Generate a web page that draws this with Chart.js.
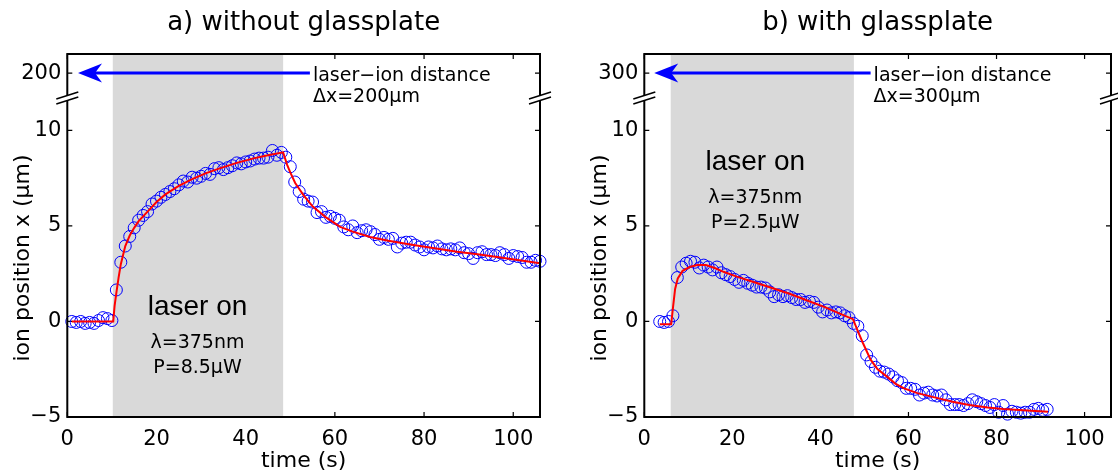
<!DOCTYPE html>
<html>
<head>
<meta charset="utf-8">
<script src="https://cdn.jsdelivr.net/npm/chart.js@4.4.1/dist/chart.umd.min.js"></script>
<style>
  html, body { margin: 0; padding: 0; background: #fff; }
  #wrap { position: relative; width: 1118px; height: 474px; }
  canvas { position: absolute; top: 0; }
</style>
</head>
<body>
<div id="wrap">
  <canvas id="chartA" width="559" height="474" style="left:0px"></canvas>
  <canvas id="chartB" width="559" height="474" style="left:559px"></canvas>
</div>
<script>
// ---- data ----
const xTickVals = [0, 20, 40, 60, 80, 100];
const yTickVals = [-5, 0, 5, 10];
const xRange = [0, 106];
const yRange = [-5, 14];
const breakTick = 13;     // value where the "200"/"300" label sits
const breakMark = 11.7;   // axis break

// a) without glassplate
const timeA = [
  1, 2, 3, 4, 5, 6, 7, 8, 9, 10,
  11, 12, 13, 14, 15, 16, 17, 18, 19, 20,
  21, 22, 23, 24, 25, 26, 27, 28, 29, 30,
  31, 32, 33, 34, 35, 36, 37, 38, 39, 40,
  41, 42, 43, 44, 45, 46, 47, 48, 49, 50,
  51, 52, 53, 54, 55, 56, 57, 58, 59, 60,
  61, 62, 63, 64, 65, 66, 67, 68, 69, 70,
  71, 72, 73, 74, 75, 76, 77, 78, 79, 80,
  81, 82, 83, 84, 85, 86, 87, 88, 89, 90,
  91, 92, 93, 94, 95, 96, 97, 98, 99, 100,
  101, 102, 103, 104, 105, 106
];
const posA = [
  0.0, -0.05, 0.0, -0.1, -0.05, -0.1, 0.05, 0.2, 0.15, 0.05,
  1.65, 3.1, 3.95, 4.45, 4.9, 5.3, 5.55, 5.75, 6.15, 6.3,
  6.5, 6.65, 6.8, 6.95, 7.15, 7.35, 7.3, 7.55, 7.5, 7.6,
  7.75, 7.7, 8.0, 8.05, 7.95, 8.05, 8.15, 8.3, 8.25, 8.35,
  8.4, 8.5, 8.55, 8.55, 8.6, 8.95, 8.7, 8.85, 8.6, 8.1,
  7.3, 6.8, 6.4, 6.3, 6.25, 5.7, 5.75, 5.45, 5.5, 5.4,
  5.3, 4.95, 4.8, 5.0, 4.65, 4.75, 4.8, 4.7, 4.55, 4.3,
  4.4, 4.3, 4.35, 3.9, 4.1, 4.15, 4.15, 4.0, 3.9, 3.75,
  3.9, 3.85, 3.95, 3.8, 3.75, 3.8, 3.75, 3.85, 3.6, 3.55,
  3.3, 3.6, 3.65, 3.5, 3.5, 3.45, 3.6, 3.5, 3.3, 3.45,
  3.4, 3.35, 3.1, 3.1, 3.2, 3.15
];
const fitTimeA = [1, 10.3, 10.6, 11, 11.5, 12, 13, 14, 15, 16, 18, 20, 22, 25, 28, 31, 34, 38, 42, 45,
  48.4, 49.3, 50, 51.1, 53, 55.1, 58, 61.2, 64, 67.9, 72, 77.6, 82, 87.4, 92, 96.4, 101, 106];
const fitPosA = [0, 0, 0.8, 1.5, 2.3, 3.0, 3.95, 4.5, 4.9, 5.25, 5.75, 6.25, 6.65, 7.1, 7.45, 7.75, 8.0, 8.3, 8.55, 8.7,
  8.85, 8.2, 7.8, 7.25, 6.6, 6.0, 5.45, 4.95, 4.7, 4.42, 4.22, 4.0, 3.85, 3.65, 3.52, 3.38, 3.22, 3.05];

// b) with glassplate
const timeB = [
  3.5, 4.5, 5.5, 6.5, 7.5, 8.5, 9.5, 10.5, 11.5, 12.5,
  13.5, 14.5, 15.5, 16.5, 17.5, 18.5, 19.5, 20.5, 21.5, 22.5,
  23.5, 24.5, 25.5, 26.5, 27.5, 28.5, 29.5, 30.5, 31.5, 32.5,
  33.5, 34.5, 35.5, 36.5, 37.5, 38.5, 39.5, 40.5, 41.5, 42.5,
  43.5, 44.5, 45.5, 46.5, 47.5, 48.5, 49.5, 50.5, 51.5, 52.5,
  53.5, 54.5, 55.5, 56.5, 57.5, 58.5, 59.5, 60.5, 61.5, 62.5,
  63.5, 64.5, 65.5, 66.5, 67.5, 68.5, 69.5, 70.5, 71.5, 72.5,
  73.5, 74.5, 75.5, 76.5, 77.5, 78.5, 79.5, 80.5, 81.5, 82.5,
  83.5, 84.5, 85.5, 86.5, 87.5, 88.5, 89.5, 90.5, 91.5
];
const posB = [
  0.0, -0.05, 0.0, 0.3, 2.3, 2.85, 3.05, 3.15, 3.1, 2.8,
  2.95, 2.85, 2.7, 2.85, 2.55, 2.45, 2.35, 2.2, 2.05, 2.15,
  2.0, 1.9, 1.8, 1.8, 1.75, 1.55, 1.3, 1.4, 1.3, 1.35,
  1.25, 1.15, 1.15, 1.0, 1.05, 1.0, 0.75, 0.5, 0.6, 0.45,
  0.5, 0.45, 0.3, 0.2, -0.1, -0.25, -0.75, -1.75, -2.1, -2.4,
  -2.6, -2.65, -2.75, -2.9, -3.1, -3.2, -3.5, -3.5, -3.55, -3.85,
  -3.75, -3.7, -3.85, -3.9, -3.85, -4.1, -4.35, -4.35, -4.35, -4.4,
  -4.3, -4.1, -4.2, -4.3, -4.4, -4.5, -4.35, -4.75, -4.4, -4.85,
  -4.7, -4.75, -4.8, -4.75, -4.75, -4.6, -4.55, -4.65, -4.6
];
const fitTimeB = [3.5, 6.1, 6.5, 7, 7.6, 8.7, 10.3, 12, 14, 16, 18, 21, 25, 29, 33, 37, 41, 44, 47.4, 48.5,
  49.6, 51.4, 53, 55.2, 57, 59, 62, 66.4, 70, 73.8, 78, 81.5, 86, 91.7];
const fitPosB = [-0.15, -0.15, 0.7, 1.7, 2.25, 2.65, 2.85, 2.95, 2.95, 2.8, 2.6, 2.35, 2.05, 1.75, 1.45, 1.1, 0.75, 0.45, 0.12, -0.5,
  -1.1, -2.0, -2.5, -2.9, -3.25, -3.5, -3.75, -4.0, -4.2, -4.37, -4.5, -4.58, -4.65, -4.72];

const fontFam = '"DejaVu Sans", sans-serif';

function fmtTick(v, breakLabel) {
  if (v === breakTick) return breakLabel;
  return v < 0 ? '\u2212' + Math.abs(v) : String(v);
}

// frame, inward ticks, shaded laser window, axis break, arrow and text
function deco(p) {
  return {
    id: 'deco',
    beforeDatasetsDraw(chart) {
      const { ctx, chartArea: a, scales: { x, y } } = chart;
      ctx.save();
      ctx.strokeStyle = '#000';
      ctx.lineWidth = 1.2;
      ctx.beginPath();
      x.ticks.forEach(t => {
        const px = x.getPixelForValue(t.value);
        ctx.moveTo(px, a.bottom); ctx.lineTo(px, a.bottom - 5);
        ctx.moveTo(px, a.top); ctx.lineTo(px, a.top + 5);
      });
      y.ticks.forEach(t => {
        const py = y.getPixelForValue(t.value);
        ctx.moveTo(a.left, py); ctx.lineTo(a.left + 5, py);
        ctx.moveTo(a.right, py); ctx.lineTo(a.right - 5, py);
      });
      ctx.stroke();
      const x0 = x.getPixelForValue(p.laser[0]);
      const x1 = x.getPixelForValue(p.laser[1]);
      ctx.fillStyle = '#d9d9d9';
      ctx.fillRect(x0, a.top, x1 - x0, a.bottom - a.top);
      ctx.restore();
    },
    afterDraw(chart) {
      const { ctx, chartArea: a, scales: { x, y } } = chart;
      ctx.save();
      ctx.strokeStyle = '#000';
      ctx.lineWidth = 2;
      ctx.strokeRect(a.left, a.top, a.right - a.left, a.bottom - a.top);

      // axis break "//"
      const by = y.getPixelForValue(breakMark);
      [a.left, a.right].forEach(ax => {
        ctx.fillStyle = '#fff';
        ctx.beginPath();
        ctx.moveTo(ax - 11, by - 2.5 + 3.5);
        ctx.lineTo(ax + 11, by - 2.5 - 3.5);
        ctx.lineTo(ax + 11, by + 2.5 - 3.5);
        ctx.lineTo(ax - 11, by + 2.5 + 3.5);
        ctx.closePath();
        ctx.fill();
        ctx.lineWidth = 1.5;
        ctx.beginPath();
        ctx.moveTo(ax - 11, by - 2.5 + 3.5); ctx.lineTo(ax + 11, by - 2.5 - 3.5);
        ctx.moveTo(ax - 11, by + 2.5 + 3.5); ctx.lineTo(ax + 11, by + 2.5 - 3.5);
        ctx.stroke();
      });

      // arrow to the laser-ion distance
      const ay = y.getPixelForValue(breakTick);
      const tip = x.getPixelForValue(p.arrow[0]);
      const tail = x.getPixelForValue(p.arrow[1]);
      ctx.strokeStyle = '#0000ff';
      ctx.fillStyle = '#0000ff';
      ctx.lineWidth = 3;
      ctx.beginPath();
      ctx.moveTo(tip + 14, ay); ctx.lineTo(tail, ay);
      ctx.stroke();
      ctx.beginPath();
      ctx.moveTo(tip, ay);
      ctx.lineTo(tip + 24, ay - 9.5);
      ctx.lineTo(tip + 17, ay);
      ctx.lineTo(tip + 24, ay + 9.5);
      ctx.closePath();
      ctx.fill();

      ctx.fillStyle = '#000';
      ctx.textBaseline = 'alphabetic';
      ctx.textAlign = 'left';
      ctx.font = '19px ' + fontFam;
      ctx.fillText('laser\u2212ion distance', tail + 3, ay + 8);
      ctx.fillText('\u0394x=' + p.breakLabel + '\u03bcm', tail + 3, ay + 29);

      // laser-on label
      const cx = x.getPixelForValue(p.labelX);
      const ly = y.getPixelForValue(p.labelY);
      ctx.textAlign = 'center';
      ctx.font = '28px "Liberation Sans", sans-serif';
      ctx.fillText('laser on', cx, ly);
      ctx.font = '19px ' + fontFam;
      ctx.fillText('\u03bb=375nm', cx, ly + 33);
      ctx.fillText('P=' + p.power + '\u03bcW', cx, ly + 58);

      // titles
      const mid = (a.left + a.right) / 2;
      ctx.font = '26px ' + fontFam;
      ctx.fillText(p.title, mid, 30);
      ctx.font = '22px ' + fontFam;
      ctx.fillText('time (s)', mid, 467);
      ctx.translate(a.left - 44, 258);
      ctx.rotate(-Math.PI / 2);
      ctx.textBaseline = 'middle';
      ctx.fillText('ion position x (\u03bcm)', 0, 0);
      ctx.restore();
    }
  };
}

function makeChart(id, p) {
  return new Chart(document.getElementById(id), {
    type: 'scatter',
    data: {
      datasets: [
        {
          type: 'line',
          data: p.fitT.map((t, i) => ({ x: t, y: p.fitY[i] })),
          borderColor: '#ff0000',
          borderWidth: 2,
          pointRadius: 0,
          tension: 0,
          fill: false,
          order: 0
        },
        {
          data: p.t.map((t, i) => ({ x: t, y: p.y[i] })),
          borderColor: '#0000ff',
          backgroundColor: 'rgba(0,0,0,0)',
          pointRadius: 6,
          pointBorderWidth: 1,
          clip: false,
          order: 1
        }
      ]
    },
    options: {
      responsive: false,
      animation: false,
      devicePixelRatio: 1,
      layout: { padding: p.pad },
      plugins: { legend: { display: false }, tooltip: { enabled: false } },
      scales: {
        x: {
          type: 'linear', min: xRange[0], max: xRange[1],
          grid: { display: false, drawTicks: false },
          border: { display: false },
          afterBuildTicks: s => { s.ticks = xTickVals.map(v => ({ value: v })); },
          afterFit: s => { s.height = 57; },
          ticks: { color: '#000', font: { family: fontFam, size: 21 }, padding: 10, maxRotation: 0 }
        },
        y: {
          type: 'linear', min: yRange[0], max: yRange[1],
          grid: { display: false, drawTicks: false },
          border: { display: false },
          afterBuildTicks: s => { s.ticks = yTickVals.concat([breakTick]).map(v => ({ value: v })); },
          afterFit: s => { s.width = p.yWidth; },
          ticks: {
            color: '#000', font: { family: fontFam, size: 21 }, padding: 6,
            callback: v => fmtTick(v, p.breakLabel)
          }
        }
      }
    },
    plugins: [deco(p)]
  });
}

makeChart('chartA', {
  t: timeA, y: posA, fitT: fitTimeA, fitY: fitPosA,
  laser: [10.2, 48.4], arrow: [2.4, 54.4],
  labelX: 29.2, labelY: 0.34, power: '8.5',
  breakLabel: '200', title: 'a) without glassplate',
  pad: { top: 54, right: 19, bottom: 0, left: 0 }, yWidth: 67.3
});

makeChart('chartB', {
  t: timeB, y: posB, fitT: fitTimeB, fitY: fitPosB,
  laser: [6.0, 47.6], arrow: [2.25, 51.4],
  labelX: 25.2, labelY: 7.93, power: '2.5',
  breakLabel: '300', title: 'b) with glassplate',
  pad: { top: 54, right: 1.3, bottom: 0, left: 0 }, yWidth: 85.3
});
</script>
</body>
</html>
